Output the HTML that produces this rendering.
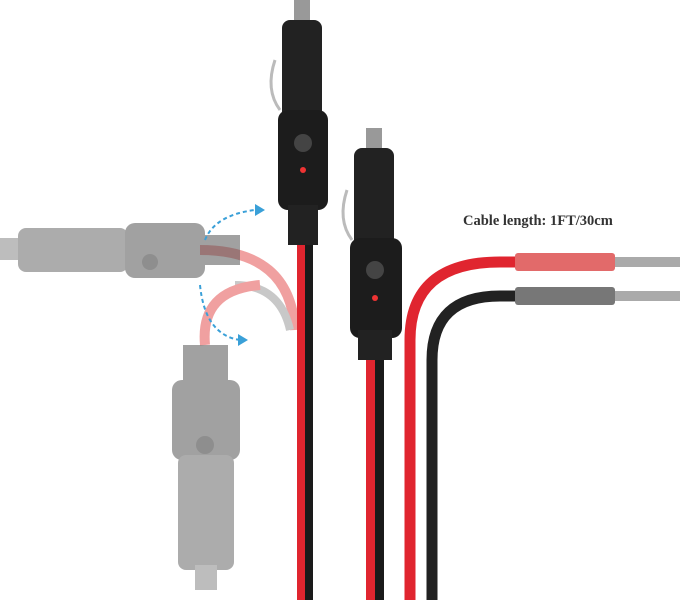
<!DOCTYPE html>
<html><head><style>html,body{margin:0;padding:0;background:#fff;width:684px;height:600px;overflow:hidden}</style></head>
<body>
<svg width="684" height="600" viewBox="0 0 684 600" xmlns="http://www.w3.org/2000/svg">
<rect width="684" height="600" fill="#fff"/>
<!-- ghost cables -->
<path d="M200 250 Q290 250 295 330" stroke="#f0a0a0" stroke-width="10" fill="none"/>
<path d="M235 285 Q280 285 290 330" stroke="#c8c8c8" stroke-width="8" fill="none"/>
<path d="M205 345 Q200 290 260 285" stroke="#f0a0a0" stroke-width="10" fill="none"/>
<!-- ghost horizontal plug -->
<g opacity="0.55">
<rect x="0" y="238" width="20" height="22" fill="#888"/>
<rect x="18" y="228" width="110" height="44" rx="8" fill="#6a6a6a"/>
<rect x="125" y="223" width="80" height="55" rx="10" fill="#555"/>
<circle cx="150" cy="262" r="8" fill="#333"/>
<rect x="200" y="235" width="40" height="30" fill="#555"/>
</g>
<!-- ghost vertical plug -->
<g opacity="0.55">
<rect x="183" y="345" width="45" height="40" fill="#555"/>
<rect x="172" y="380" width="68" height="80" rx="10" fill="#555"/>
<circle cx="205" cy="445" r="9" fill="#333"/>
<rect x="178" y="455" width="56" height="115" rx="8" fill="#6a6a6a"/>
<rect x="195" y="565" width="22" height="25" fill="#888"/>
</g>
<!-- blue arrows -->
<path d="M205 240 Q215 215 255 210" stroke="#3aa0d8" stroke-width="2" stroke-dasharray="4 3" fill="none"/>
<path d="M255 204 L265 210 L255 216Z" fill="#3aa0d8"/>
<path d="M200 285 Q205 335 240 340" stroke="#3aa0d8" stroke-width="2" stroke-dasharray="4 3" fill="none"/>
<path d="M238 334 L248 340 L238 346Z" fill="#3aa0d8"/>
<!-- plug1 cable -->
<rect x="297" y="235" width="8" height="365" fill="#e0252f"/>
<rect x="305" y="235" width="8" height="365" fill="#1a1a1a"/>
<!-- plug1 -->
<rect x="294" y="0" width="16" height="22" fill="#999"/>
<rect x="282" y="20" width="40" height="100" rx="8" fill="#222"/>
<path d="M275 60 Q265 90 280 110" stroke="#bbb" stroke-width="3" fill="none"/>
<rect x="278" y="110" width="50" height="100" rx="10" fill="#1c1c1c"/>
<circle cx="303" cy="143" r="9" fill="#444"/>
<circle cx="303" cy="170" r="3" fill="#e33"/>
<rect x="288" y="205" width="30" height="40" fill="#222"/>
<!-- plug2 cable -->
<rect x="366" y="355" width="9" height="245" fill="#e0252f"/>
<rect x="375" y="355" width="9" height="245" fill="#1a1a1a"/>
<!-- plug2 -->
<rect x="366" y="128" width="16" height="22" fill="#999"/>
<rect x="354" y="148" width="40" height="100" rx="8" fill="#222"/>
<path d="M347 190 Q337 220 352 240" stroke="#bbb" stroke-width="3" fill="none"/>
<rect x="350" y="238" width="52" height="100" rx="10" fill="#1c1c1c"/>
<circle cx="375" cy="270" r="9" fill="#444"/>
<circle cx="375" cy="298" r="3" fill="#e33"/>
<rect x="358" y="330" width="34" height="30" fill="#222"/>
<!-- right cables -->
<path d="M410 600 L410 340 Q410 262 500 262 L520 262" stroke="#e0252f" stroke-width="11" fill="none"/>
<path d="M432 600 L432 360 Q432 296 500 296 L520 296" stroke="#222" stroke-width="11" fill="none"/>
<rect x="515" y="253" width="100" height="18" rx="3" fill="#e26a6a"/>
<rect x="515" y="287" width="100" height="18" rx="3" fill="#777"/>
<rect x="615" y="257" width="65" height="10" fill="#aaa"/>
<rect x="615" y="291" width="65" height="10" fill="#aaa"/>
<text x="463" y="225" font-family="Liberation Serif, serif" font-weight="bold" font-size="14.5" fill="#333">Cable length: 1FT/30cm</text>
</svg>
</body></html>
